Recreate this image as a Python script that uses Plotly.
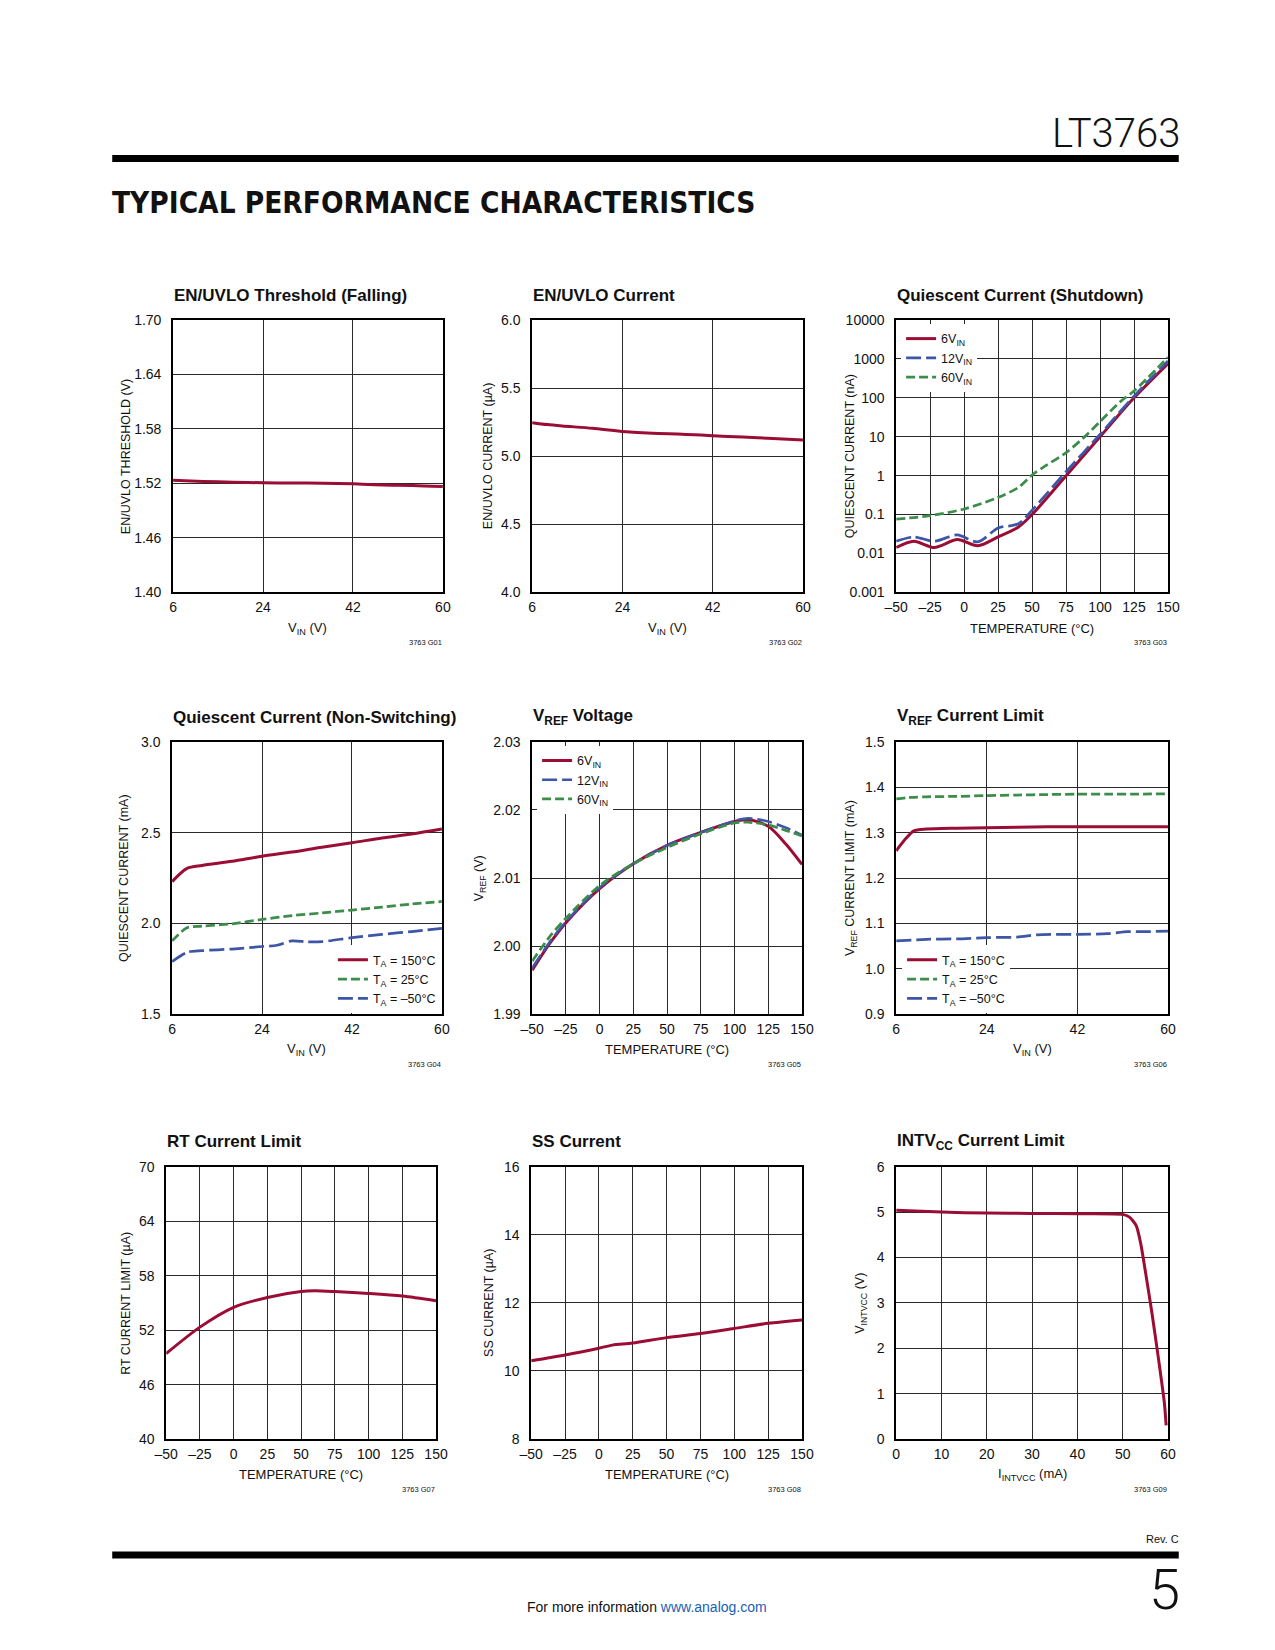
import plotly.graph_objects as go

# ---------------- data ----------------
vin_p1 = [6, 12, 18, 24, 30, 36, 42, 48, 54, 60]
thr_p1 = [1.5235, 1.5222, 1.5214, 1.5207, 1.5205, 1.5202, 1.5195, 1.5183, 1.5178, 1.5165]

vin_p2 = [6, 9, 12, 18, 24, 30, 36, 42, 48, 54, 60]
cur_p2 = [5.246, 5.232, 5.222, 5.205, 5.182, 5.168, 5.162, 5.150, 5.140, 5.130, 5.118]

temp_p3 = [-50, -37, -22, -5, 10, 25, 40, 50, 75, 100, 125, 150]
iq_6v = [0.0142, 0.0206, 0.0142, 0.0227, 0.0157, 0.0265, 0.048, 0.1, 1.0, 10, 100, 760]
iq_12v = [0.0206, 0.0265, 0.0206, 0.030, 0.0198, 0.045, 0.058, 0.13, 1.26, 11.5, 110, 880]
temp_p3_60 = [-50, -25, 0, 25, 40, 50, 60, 75, 90, 100, 115, 125, 150]
iq_60v = [0.076, 0.094, 0.139, 0.276, 0.5, 1.04, 1.8, 3.9, 11, 24.5, 80, 150, 1100]

vin_p4 = [6, 9, 12, 18, 24, 30, 36, 42, 48, 54, 60]
iq_150 = [2.230, 2.303, 2.319, 2.342, 2.370, 2.393, 2.420, 2.444, 2.471, 2.493, 2.520]
iq_25 = [1.904, 1.976, 1.985, 1.998, 2.022, 2.043, 2.058, 2.074, 2.090, 2.107, 2.121]
vin_p4_m50 = [6, 9, 12, 18, 24, 27, 30, 33, 36, 42, 48, 54, 60]
iq_m50 = [1.790, 1.841, 1.850, 1.859, 1.873, 1.880, 1.904, 1.899, 1.900, 1.922, 1.940, 1.955, 1.973]

temp_p5 = [-50, -37, -25, 0, 25, 50, 75, 100, 110, 125, 138, 150]
vref_6 = [1.99646, 2.0004, 2.00345, 2.00845, 2.0121, 2.0148, 2.0167, 2.0183, 2.0186, 2.0176, 2.0150, 2.0120]
vref_12 = [1.9968, 2.0006, 2.0036, 2.0086, 2.0121, 2.0148, 2.0167, 2.0184, 2.0188, 2.0183, 2.0174, 2.0163]
vref_60 = [1.9978, 2.0014, 2.0041, 2.0089, 2.0121, 2.0145, 2.0165, 2.0181, 2.0182, 2.0178, 2.0170, 2.0162]

vin_p6 = [6, 8, 9.5, 12, 18, 24, 30, 36, 42, 48, 54, 60]
ilim_150 = [1.260, 1.288, 1.304, 1.308, 1.310, 1.311, 1.312, 1.313, 1.313, 1.313, 1.313, 1.313]
ilim_25 = [1.3746, 1.377, 1.378, 1.379, 1.380, 1.3818, 1.383, 1.384, 1.3848, 1.385, 1.385, 1.3855]
vin_p6_m50 = [6, 12, 18, 24, 30, 34, 38, 42, 48, 52, 56, 60]
ilim_m50 = [1.0616, 1.065, 1.066, 1.0688, 1.070, 1.075, 1.076, 1.076, 1.0775, 1.082, 1.082, 1.083]

temp_p7 = [-50, -25, 0, 25, 50, 60, 75, 100, 125, 150]
rt_lim = [49.42, 52.33, 54.51, 55.6, 56.25, 56.33, 56.25, 56.04, 55.75, 55.24]

temp_p8 = [-50, -25, 0, 10, 25, 50, 75, 100, 125, 150]
ss_cur = [10.30, 10.47, 10.67, 10.76, 10.82, 10.98, 11.10, 11.25, 11.40, 11.50]

i_p9 = [0, 10, 20, 30, 40, 50, 51.5, 53, 54, 55, 56.5, 58, 59.2, 59.6]
v_p9 = [5.04, 5.0, 4.98, 4.97, 4.965, 4.95, 4.89, 4.7, 4.3, 3.7, 2.75, 1.7, 0.8, 0.3]

temp_ticks = [-50, -25, 0, 25, 50, 75, 100, 125, 150]
temp_text = ["–50", "–25", "0", "25", "50", "75", "100", "125", "150"]
vin_ticks = [6, 24, 42, 60]
vin_text = ["6", "24", "42", "60"]

# ---------------- style ----------------
RED = "#9B0D35"
GREEN = "#3C8D4B"
BLUE = "#3D56A6"
FONT = "Liberation Sans, Arial, Helvetica, sans-serif"
HFONT = "DejaVu Sans Condensed, DejaVu Sans, sans-serif"
LFONT = "Roboto, Liberation Sans, sans-serif"
INK = "#111"
W, H = 1275, 1650

def fx(x):
    return x / W

def fy(y):
    return 1 - y / H

boxes = [
    (156, 431, 307, 582),
    (522, 798, 307, 582),
    (893, 1170, 307, 582),
    (155, 430, 733, 1008),
    (522, 797, 733, 1008),
    (893, 1170, 733, 1008),
    (149, 424, 1162, 1437),
    (521, 797, 1162, 1437),
    (893, 1170, 1162, 1437),
]

titles = ["EN/UVLO Threshold (Falling)", "EN/UVLO Current", "Quiescent Current (Shutdown)",
          "Quiescent Current (Non-Switching)", "V<sub>REF</sub> Voltage", "V<sub>REF</sub> Current Limit",
          "RT Current Limit", "SS Current", "INTV<sub>CC</sub> Current Limit"]
xtitles = ["V<sub>IN</sub> (V)", "V<sub>IN</sub> (V)", "TEMPERATURE (°C)",
           "V<sub>IN</sub> (V)", "TEMPERATURE (°C)", "V<sub>IN</sub> (V)",
           "TEMPERATURE (°C)", "TEMPERATURE (°C)", "I<sub>INTVCC</sub> (mA)"]
ytitles = ["EN/UVLO THRESHOLD (V)", "EN/UVLO CURRENT (µA)", "QUIESCENT CURRENT (nA)",
           "QUIESCENT CURRENT (mA)", "V<sub>REF</sub> (V)", "V<sub>REF</sub> CURRENT LIMIT (mA)",
           "RT CURRENT LIMIT (µA)", "SS CURRENT (µA)", "V<sub>INTVCC</sub> (V)"]
ytitle_x = [108, 477, 846, 106, 469, 847, 108, 478, 857]

def steps(a, b, s, fmt):
    vals, v = [], a
    while v <= b + 1e-9:
        vals.append(round(v, 6))
        v += s
    return vals, [fmt.format(x) for x in vals]

axes = [
    dict(x=([6, 60], vin_ticks, vin_text), y=([1.40, 1.70],) + steps(1.40, 1.70, 0.06, "{:.2f}")),
    dict(x=([6, 60], vin_ticks, vin_text), y=([4.0, 6.0],) + steps(4.0, 6.0, 0.5, "{:.1f}")),
    dict(x=([-50, 150], temp_ticks, temp_text),
         y=([-3, 4], [0.001, 0.01, 0.1, 1, 10, 100, 1000, 10000],
            ["0.001", "0.01", "0.1", "1", "10", "100", "1000", "10000"]), log=True),
    dict(x=([6, 60], vin_ticks, vin_text), y=([1.5, 3.0],) + steps(1.5, 3.0, 0.5, "{:.1f}")),
    dict(x=([-50, 150], temp_ticks, temp_text), y=([1.99, 2.03],) + steps(1.99, 2.03, 0.01, "{:.2f}")),
    dict(x=([6, 60], vin_ticks, vin_text), y=([0.9, 1.5],) + steps(0.9, 1.5, 0.1, "{:.1f}")),
    dict(x=([-50, 150], temp_ticks, temp_text), y=([40, 70],) + steps(40, 70, 6, "{:.0f}")),
    dict(x=([-50, 150], temp_ticks, temp_text), y=([8, 16],) + steps(8, 16, 2, "{:.0f}")),
    dict(x=([0, 60],) + steps(0, 60, 10, "{:.0f}"), y=([0, 6],) + steps(0, 6, 1, "{:.0f}")),
]

fig = go.Figure()

def add(n, x, y, color, dash="solid", width=3, name=None, legend=None, smoothing=0.8):
    sfx = "" if n == 1 else str(n)
    fig.add_trace(go.Scatter(
        x=x, y=y, mode="lines", xaxis="x" + sfx, yaxis="y" + sfx,
        line=dict(color=color, width=width, dash=dash, shape="spline", smoothing=smoothing),
        name=name, showlegend=legend is not None, legend=legend or "legend",
        hoverinfo="skip"))

LD = "15px,5px"
SD = "9px,4px"
add(1, vin_p1, thr_p1, RED)
add(2, vin_p2, cur_p2, RED)
add(3, temp_p3, iq_6v, RED, name="6V<sub>IN</sub>", legend="legend")
add(3, temp_p3, iq_12v, BLUE, LD, 2.75, name="12V<sub>IN</sub>", legend="legend")
add(3, temp_p3_60, iq_60v, GREEN, SD, 2.75, name="60V<sub>IN</sub>", legend="legend")
add(4, vin_p4, iq_150, RED, name="T<sub>A</sub> = 150°C", legend="legend2")
add(4, vin_p4, iq_25, GREEN, SD, 2.75, name="T<sub>A</sub> = 25°C", legend="legend2")
add(4, vin_p4_m50, iq_m50, BLUE, LD, 2.75, name="T<sub>A</sub> = –50°C", legend="legend2")
add(5, temp_p5, vref_6, RED, name="6V<sub>IN</sub>", legend="legend3")
add(5, temp_p5, vref_12, BLUE, LD, 2.5, name="12V<sub>IN</sub>", legend="legend3")
add(5, temp_p5, vref_60, GREEN, SD, 2.75, name="60V<sub>IN</sub>", legend="legend3")
add(6, vin_p6, ilim_150, RED, name="T<sub>A</sub> = 150°C", legend="legend4")
add(6, vin_p6, ilim_25, GREEN, SD, 2.75, name="T<sub>A</sub> = 25°C", legend="legend4")
add(6, vin_p6_m50, ilim_m50, BLUE, LD, 2.75, name="T<sub>A</sub> = –50°C", legend="legend4")
add(7, temp_p7, rt_lim, RED)
add(8, temp_p8, ss_cur, RED)
add(9, i_p9, v_p9, RED, smoothing=0.6)

layout = dict(width=W, height=H, margin=dict(l=0, r=0, t=0, b=0),
              paper_bgcolor="white", plot_bgcolor="white",
              font=dict(family=FONT, color=INK, size=13), showlegend=True)

tickfont = dict(family=FONT, size=14, color=INK)
annotations = []
for i, (b, ax) in enumerate(zip(boxes, axes)):
    n = i + 1
    sfx = "" if n == 1 else str(n)
    l, r, t, bt = b
    xr, xtv, xtt = ax["x"]
    yr, ytv, ytt = ax["y"]
    common = dict(showgrid=True, gridcolor="#2a2a2a", gridwidth=1, showline=True,
                  linecolor="black", linewidth=1.7, mirror=True, ticks="", zeroline=False,
                  tickfont=tickfont, fixedrange=True)
    layout["xaxis" + sfx] = dict(domain=[fx(l), fx(r)], range=xr, tickvals=xtv, ticktext=xtt,
                                 anchor="y" + sfx, ticklabelstandoff=1, **common)
    layout["yaxis" + sfx] = dict(domain=[fy(bt), fy(t)], range=yr, tickvals=ytv, ticktext=ytt,
                                 anchor="x" + sfx, ticklabelstandoff=7,
                                 type="log" if ax.get("log") else "linear", **common)
    annotations.append(dict(text="<b>" + titles[i] + "</b>", x=fx(l - 1), y=fy(t - 25), xref="paper", yref="paper",
                            xanchor="left", yanchor="middle", showarrow=False,
                            font=dict(family=FONT, size=17, color=INK)))
    annotations.append(dict(text=xtitles[i], x=fx((l + r) / 2), y=fy(bt + 36), xref="paper", yref="paper",
                            xanchor="center", yanchor="middle", showarrow=False,
                            font=dict(family=FONT, size=13, color=INK)))
    annotations.append(dict(text=ytitles[i], x=fx(ytitle_x[i]), y=fy((t + bt) / 2), xref="paper", yref="paper",
                            xanchor="center", yanchor="middle", showarrow=False, textangle=-90,
                            font=dict(family=FONT, size=12.5, color=INK)))
    annotations.append(dict(text="3763 G0%d" % n, x=fx(r + 1), y=fy(bt + 51), xref="paper", yref="paper",
                            xanchor="right", yanchor="middle", showarrow=False,
                            font=dict(family=FONT, size=7.5, color=INK)))

# page header / footer
annotations += [
    dict(text="LT3763", x=fx(1184), y=fy(119), xref="paper", yref="paper", xanchor="right",
         yanchor="middle", showarrow=False, font=dict(family=LFONT, size=40, color=INK, weight=300)),
    dict(text="<b>TYPICAL PERFORMANCE CHARACTERISTICS</b>", x=fx(92), y=fy(189), xref="paper",
         yref="paper", xanchor="left", yanchor="middle", showarrow=False,
         font=dict(family=HFONT, size=29.5, color=INK)),
    dict(text="Rev. C", x=fx(1183), y=fy(1538), xref="paper", yref="paper", xanchor="right",
         yanchor="middle", showarrow=False, font=dict(family=FONT, size=11, color=INK)),
    dict(text="5", x=fx(1184), y=fy(1589), xref="paper", yref="paper", xanchor="right",
         yanchor="middle", showarrow=False, font=dict(family=LFONT, size=56, color=INK, weight=300)),
    dict(text="For more information <span style='color:#1a5fb4'>www.analog.com</span>", x=fx(639), y=fy(1607),
         xref="paper", yref="paper", xanchor="center", yanchor="middle", showarrow=False,
         font=dict(family=FONT, size=14, color=INK)),
]
layout["annotations"] = annotations
layout["shapes"] = [
    dict(type="line", xref="paper", yref="paper", x0=fx(94), x1=fx(1181), y0=fy(144), y1=fy(144),
         line=dict(color="black", width=7)),
    dict(type="line", xref="paper", yref="paper", x0=fx(94), x1=fx(1181), y0=fy(1554), y1=fy(1554),
         line=dict(color="black", width=7)),
]

leg = dict(bgcolor="white", borderwidth=0, font=dict(family=FONT, size=12.5, color=INK),
           tracegroupgap=0, itemclick=False, itemdoubleclick=False)
layout["legend"] = dict(x=fx(898), y=fy(311), xanchor="left", yanchor="top", **leg)
layout["legend2"] = dict(x=fx(429), y=fy(1007), xanchor="right", yanchor="bottom", **leg)
layout["legend3"] = dict(x=fx(527), y=fy(737), xanchor="left", yanchor="top", **leg)
layout["legend4"] = dict(x=fx(899), y=fy(1007), xanchor="left", yanchor="bottom", **leg)

fig.update_layout(**layout)
fig.write_html("out.html")
